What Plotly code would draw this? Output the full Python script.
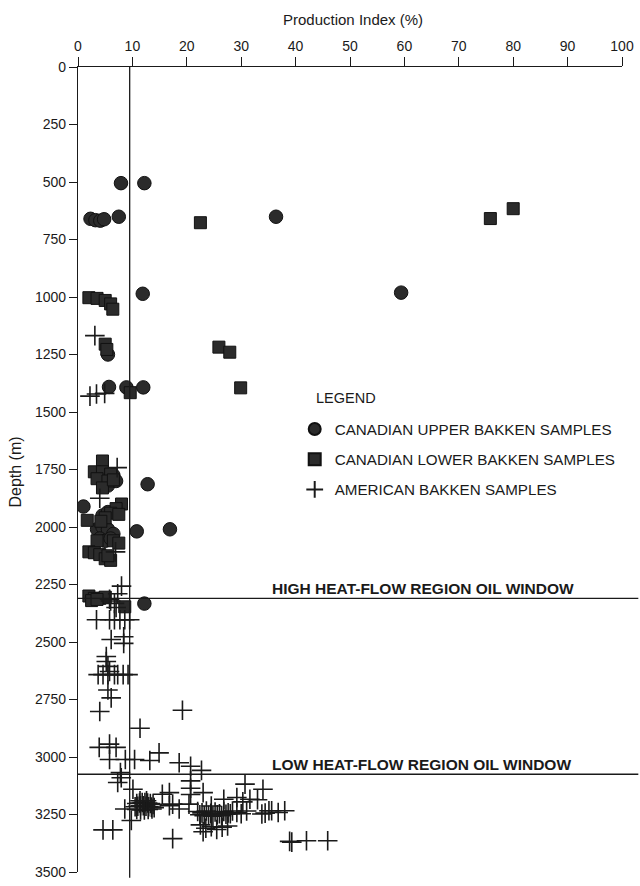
import plotly.graph_objects as go

# ---------------- data ----------------
upper_x = [7.9, 12.2, 2.3, 3.2, 4.1, 4.8, 7.5, 36.4, 11.9, 59.4, 5.5, 5.7, 8.9, 12.0,
           6.5, 5.5, 7.0, 12.8, 1.0, 4.5, 5.5, 10.8, 16.9, 3.5, 4.5, 5.5, 6.5, 4.0, 5.0, 6.0, 12.2]
upper_d = [505, 505, 660, 666, 668, 662, 651, 651, 986, 981, 1250, 1391, 1393, 1393,
           1775, 1820, 1800, 1814, 1911, 1950, 1935, 2019, 2010, 2010, 2000, 2010, 2030, 2050, 2060, 2050, 2333]

lower_x = [80.0, 75.8, 22.5, 2.0, 3.5, 5.0, 6.0, 6.4, 5.0, 5.3, 25.9, 27.9, 29.9, 9.6,
           4.5, 3.0, 4.5, 6.0, 3.5, 5.5, 4.5, 6.5, 1.7, 8.0, 7.0, 6.0, 5.0, 4.2, 7.5,
           6.5, 7.5, 3.5, 2.0, 3.0, 4.0, 5.0, 6.0, 5.5, 2.0, 3.0, 4.0, 5.0, 2.5, 3.5, 8.6]
lower_d = [616, 659, 677, 1003, 1006, 1015, 1030, 1053, 1205, 1228, 1218, 1240, 1395, 1416,
           1713, 1760, 1760, 1770, 1790, 1800, 1830, 1795, 1971, 1900, 1920, 1940, 1960, 1975, 1945,
           2060, 2070, 2060, 2108, 2112, 2120, 2138, 2145, 2125, 2300, 2310, 2310, 2305, 2320, 2315, 2347]

amer_x = [3.1, 2.2, 3.4, 4.9, 7.2, 4.0, 6.9, 8.0, 7.3,
          5.8, 6.7, 7.0, 6.0,
          3.4, 5.8, 6.7, 7.7, 8.6, 9.5,
          6.1, 8.4, 8.4,
          5.2, 5.2, 5.5, 5.8, 3.7, 4.6, 5.5, 6.7, 7.3, 8.3, 9.2,
          5.5, 6.1, 4.0, 19.2, 11.4,
          3.9, 5.8, 7.0, 5.8, 8.7, 10.4, 13.2, 14.9, 18.6, 20.7, 22.7,
          7.8, 7.95, 7.3, 10.1, 20.7, 20.7, 20.7, 23.0, 15.5, 16.8,
          8.6, 9.8, 4.6, 6.4, 17.4, 16.8, 18.6, 20.4, 17.4,
          30.7, 34.0,
          10.8, 11.3, 11.8, 12.3, 12.8, 13.3, 13.8, 10.5, 11.0, 11.5, 12.0, 12.5, 13.0, 13.5, 14.0,
          10.8, 11.5, 12.2, 12.9, 13.6, 11.4, 12.6,
          22.0, 22.8, 23.6, 24.4, 25.2, 26.0, 26.8, 27.6, 28.4, 29.2,
          22.4, 23.2, 24.0, 24.8, 25.6, 26.4, 27.2, 28.0,
          24.5, 26.8, 29.2, 31.6, 33.0, 30.3,
          33.8, 35.1, 36.8, 34.4, 35.6, 38.0, 31.0, 30.0,
          22.5, 23.5, 24.5, 25.5, 26.5, 27.5, 23.0,
          38.9, 39.3, 42.0, 45.9]
amer_d = [1168, 1431, 1422, 1419, 1742, 1875, 2108, 2257, 2290,
          2314, 2332, 2350, 2322,
          2403, 2403, 2403, 2403, 2403, 2403,
          2489, 2477, 2506,
          2563, 2585, 2606, 2628, 2642, 2642, 2642, 2642, 2642, 2642, 2642,
          2709, 2743, 2802, 2797, 2875,
          2958, 2944, 2958, 3011, 3011, 3011, 3015, 2982, 3025, 3040, 3058,
          3068, 3090, 3111, 3140, 3104, 3136, 3163, 3155, 3162, 3155,
          3226, 3276, 3317, 3317, 3355, 3212, 3226, 3205, 3205,
          3118, 3140,
          3202, 3200, 3198, 3198, 3200, 3202, 3206, 3216, 3214, 3212, 3212, 3214, 3216, 3218, 3220,
          3228, 3230, 3230, 3228, 3226, 3190, 3190,
          3237, 3243, 3235, 3245, 3239, 3247, 3237, 3243, 3235, 3241,
          3251, 3255, 3253, 3257, 3251, 3255, 3249, 3247,
          3213, 3184, 3176, 3184, 3186, 3195,
          3248, 3234, 3241, 3244, 3234, 3234, 3235, 3247,
          3295, 3310, 3303, 3315, 3305, 3300, 3325,
          3367, 3370, 3364, 3364]

x_ticks = list(range(0, 101, 10))
y_ticks = list(range(0, 3501, 250))

high_window_depth = 2310
low_window_depth = 3075
ref_line_x = 9.5

FONT = "Liberation Sans, Arial, Helvetica, sans-serif"
INK = "#1a1a1a"

fig = go.Figure()

fig.add_trace(go.Scatter(
    x=upper_x, y=upper_d, mode="markers", name="CANADIAN UPPER BAKKEN SAMPLES",
    legendgroup="a",
    marker=dict(symbol="circle", size=13.5, color="#2b2b2b", line=dict(color="#111", width=1))))
fig.add_trace(go.Scatter(
    x=lower_x, y=lower_d, mode="markers", name="CANADIAN LOWER BAKKEN SAMPLES",
    legendgroup="b",
    marker=dict(symbol="square", size=12, color="#2b2b2b", line=dict(color="#111", width=1))))
fig.add_trace(go.Scatter(
    x=amer_x, y=amer_d, mode="markers", name="AMERICAN BAKKEN SAMPLES",
    legendgroup="c",
    marker=dict(symbol="cross-thin", size=14, color=INK, line=dict(color=INK, width=1.6))))

# reference lines
fig.add_shape(type="line", xref="x", yref="paper", x0=ref_line_x, x1=ref_line_x, y0=-0.007, y1=1,
              line=dict(color=INK, width=1.3))
for d in (high_window_depth, low_window_depth):
    fig.add_shape(type="line", xref="paper", yref="y", x0=0, x1=1.03, y0=d, y1=d,
                  line=dict(color=INK, width=1.3))

fig.add_annotation(xref="x", yref="y", x=35.3, y=high_window_depth, yshift=-1,
                   text="<b>HIGH HEAT-FLOW REGION OIL WINDOW</b>", showarrow=False,
                   xanchor="left", yanchor="bottom", font=dict(size=15.5, color=INK, family=FONT))
fig.add_annotation(xref="x", yref="y", x=35.3, y=low_window_depth, yshift=-1,
                   text="<b>LOW HEAT-FLOW REGION OIL WINDOW</b>", showarrow=False,
                   xanchor="left", yanchor="bottom", font=dict(size=15.5, color=INK, family=FONT))
fig.add_annotation(xref="paper", yref="paper", x=(316 - 78) / 549, y=1 - (401.7 - 67) / 813,
                   text="LEGEND", showarrow=False, xanchor="left", yanchor="middle",
                   font=dict(size=14.5, color=INK, family=FONT))

# axis titles
fig.add_annotation(xref="paper", yref="paper", x=(356 - 78) / 549, y=1 + (67 - 19) / 813,
                   text="Production Index (%)", showarrow=False, xanchor="center", yanchor="middle",
                   font=dict(size=15, color=INK, family=FONT))
fig.add_annotation(xref="paper", yref="paper", x=(15 - 78) / 549, y=1 - (476 - 67) / 813,
                   text="Depth (m)", showarrow=False, textangle=-90, xanchor="center", yanchor="middle",
                   font=dict(size=16, color=INK, family=FONT))

fig.update_layout(
    width=640, height=886,
    margin=dict(l=78, r=13, t=67, b=6),
    paper_bgcolor="white", plot_bgcolor="white",
    font=dict(family=FONT, color=INK, size=14),
    showlegend=True,
    legend=dict(x=(296.7 - 78) / 549, y=1 - (416 - 67) / 813, xanchor="left", yanchor="top",
                font=dict(size=15.2, color=INK, family=FONT), bgcolor="rgba(0,0,0,0)",
                traceorder="grouped", tracegroupgap=7.5, itemsizing="constant"),
    xaxis=dict(side="top", range=[0, 100], tickvals=x_ticks, ticks="outside", ticklen=9,
               tickwidth=1.3, tickcolor=INK, showline=True, linecolor=INK, linewidth=1.3,
               showgrid=False, zeroline=False, tickfont=dict(size=14)),
    yaxis=dict(range=[3500, 0], tickvals=y_ticks, ticks="outside", ticklen=8,
               tickwidth=1.3, tickcolor=INK, showline=True, linecolor=INK, linewidth=1.3,
               showgrid=False, zeroline=False, tickfont=dict(size=14), ticklabeloverflow="allow"),
)

fig.write_html("out.html")
